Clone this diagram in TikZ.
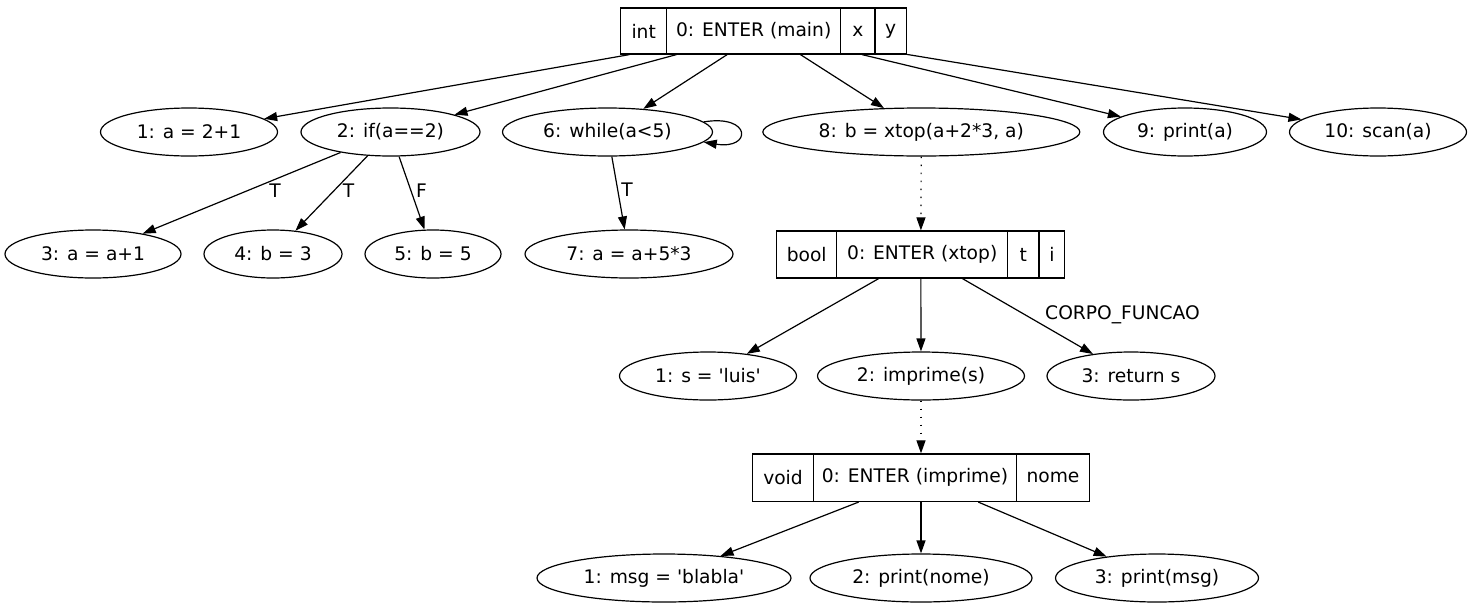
\documentclass[tikz,border=0pt]{standalone}
\usepackage{fontspec}
\setmainfont{DejaVu Sans}
\usetikzlibrary{arrows.meta,shapes.geometric}
\begin{document}
\begin{tikzpicture}[x=1pt,y=-1pt,
  lbl/.style={font=\fontsize{18.67}{22}\selectfont, inner sep=0pt},
  ell/.style={draw, ellipse, line width=1.2pt, inner sep=0pt, minimum height=48pt, lbl},
  rec/.style={draw, rectangle, line width=1.2pt, inner sep=0pt},
  divider/.style={line width=1.2pt},
  edge/.style={line width=1.2pt, -{Triangle[length=13pt,width=9pt]}},
  dotedge/.style={edge, dash pattern=on 1.4pt off 6.6pt}]
\useasboundingbox (0,0) rectangle (1472,611);

% ---- main record ----
\node[rec, minimum width=286pt, minimum height=46pt] (main) at (763.6,31) {};
\draw[divider] (666.7,8) -- (666.7,54);
\draw[divider] (840.7,8) -- (840.7,54);
\draw[divider] (875,8) -- (875,54);
\node[lbl] (mainT) at (643.7,31) {int};
\node[lbl] (mainE) at (753.7,31) {0: ENTER (main)};
\node[lbl] (mainX) at (857.8,31) {x};
\node[lbl] (mainY) at (890.7,31) {y};

% ---- row 1 ----
\node[ell, minimum width=177pt] (n1) at (189,132) {1: a = 2+1};
\node[ell, minimum width=179pt] (n2) at (390.5,132) {2: if(a==2)};
\node[ell, minimum width=210pt] (n6) at (607.5,132) {6: while(a<5)};
\node[ell, minimum width=317pt] (n8) at (921.3,132) {8: b = xtop(a+2*3, a)};
\node[ell, minimum width=163pt] (n9) at (1185,132) {9: print(a)};
\node[ell, minimum width=177pt] (n10) at (1378,132) {10: scan(a)};

% ---- row 2 ----
\node[ell, minimum width=176pt] (n3) at (93,254) {3: a = a+1};
\node[ell, minimum width=138pt] (n4) at (273,254) {4: b = 3};
\node[ell, minimum width=136pt] (n5) at (433,254) {5: b = 5};
\node[ell, minimum width=208pt] (n7) at (629,254) {7: a = a+5*3};

% ---- xtop record ----
\node[rec, minimum width=288pt, minimum height=47pt] (xtop) at (920.8,254.5) {};
\draw[divider] (836.7,231) -- (836.7,278);
\draw[divider] (1007.7,231) -- (1007.7,278);
\draw[divider] (1039,231) -- (1039,278);
\node[lbl] (xtopB) at (806.7,254.5) {bool};
\node[lbl] (xtopE) at (922.2,254.5) {0: ENTER (xtop)};
\node[lbl] (xtopT) at (1023.3,254.5) {t};
\node[lbl] (xtopI) at (1052,254.5) {i};

% ---- row 3 ----
\node[ell, minimum width=177pt] (s1) at (708,376) {1: s = \textquotesingle luis\textquotesingle};
\node[ell, minimum width=207pt] (s2) at (921,376) {2: imprime(s)};
\node[ell, minimum width=168pt] (s3) at (1131,376) {3: return s};

% ---- imprime record ----
\node[rec, minimum width=336.6pt, minimum height=47.5pt] (impr) at (921,477.7) {};
\draw[divider] (813.3,454) -- (813.3,501.5);
\draw[divider] (1016.7,454) -- (1016.7,501.5);
\node[lbl] (imprV) at (783,477.7) {void};
\node[lbl] (imprE) at (915,477.7) {0: ENTER (imprime)};
\node[lbl] (imprN) at (1053,477.7) {nome};

% ---- row 4 ----
\node[ell, minimum width=254pt] (m1) at (664,578) {1: msg = \textquotesingle blabla\textquotesingle};
\node[ell, minimum width=222pt] (m2) at (921,578) {2: print(nome)};
\node[ell, minimum width=203pt] (m3) at (1157,578) {3: print(msg)};

% ---- edges ----
\draw[edge] (main) -- (n1);
\draw[edge] (main) -- (n2);
\draw[edge] (main) -- (n6);
\draw[edge] (main) -- (n8);
\draw[edge] (main) -- (n9);
\draw[edge] (main) -- (n10);

\draw[edge] (n2) -- (n3);
\draw[edge] (n2) -- (n4);
\draw[edge] (n2) -- (n5);
\draw[edge] (n6) -- (n7);
\draw[edge] (n6.6) .. controls (752,114) and (752,150) .. (n6.-6);

\draw[dotedge] (n8) -- (xtop);
\draw[edge] (xtop) -- (s1);
\draw[edge] (xtop) -- (s2);
\draw[edge] (xtop) -- (s3);

\draw[dotedge] (s2) -- (impr);
\draw[edge] (impr) -- (m1);
\draw[edge] (impr) -- (m2);
\draw[edge] (impr) -- (m3);

% ---- edge labels ----
\node[lbl] (l23) at (275,191) {T};
\node[lbl] (l24) at (348.5,191) {T};
\node[lbl] (l25) at (421.5,191) {F};
\node[lbl] (l67) at (627,190) {T};
\node[lbl] (lcf) at (1122.5,315) {CORPO\_FUNCAO};
\end{tikzpicture}
\end{document}
